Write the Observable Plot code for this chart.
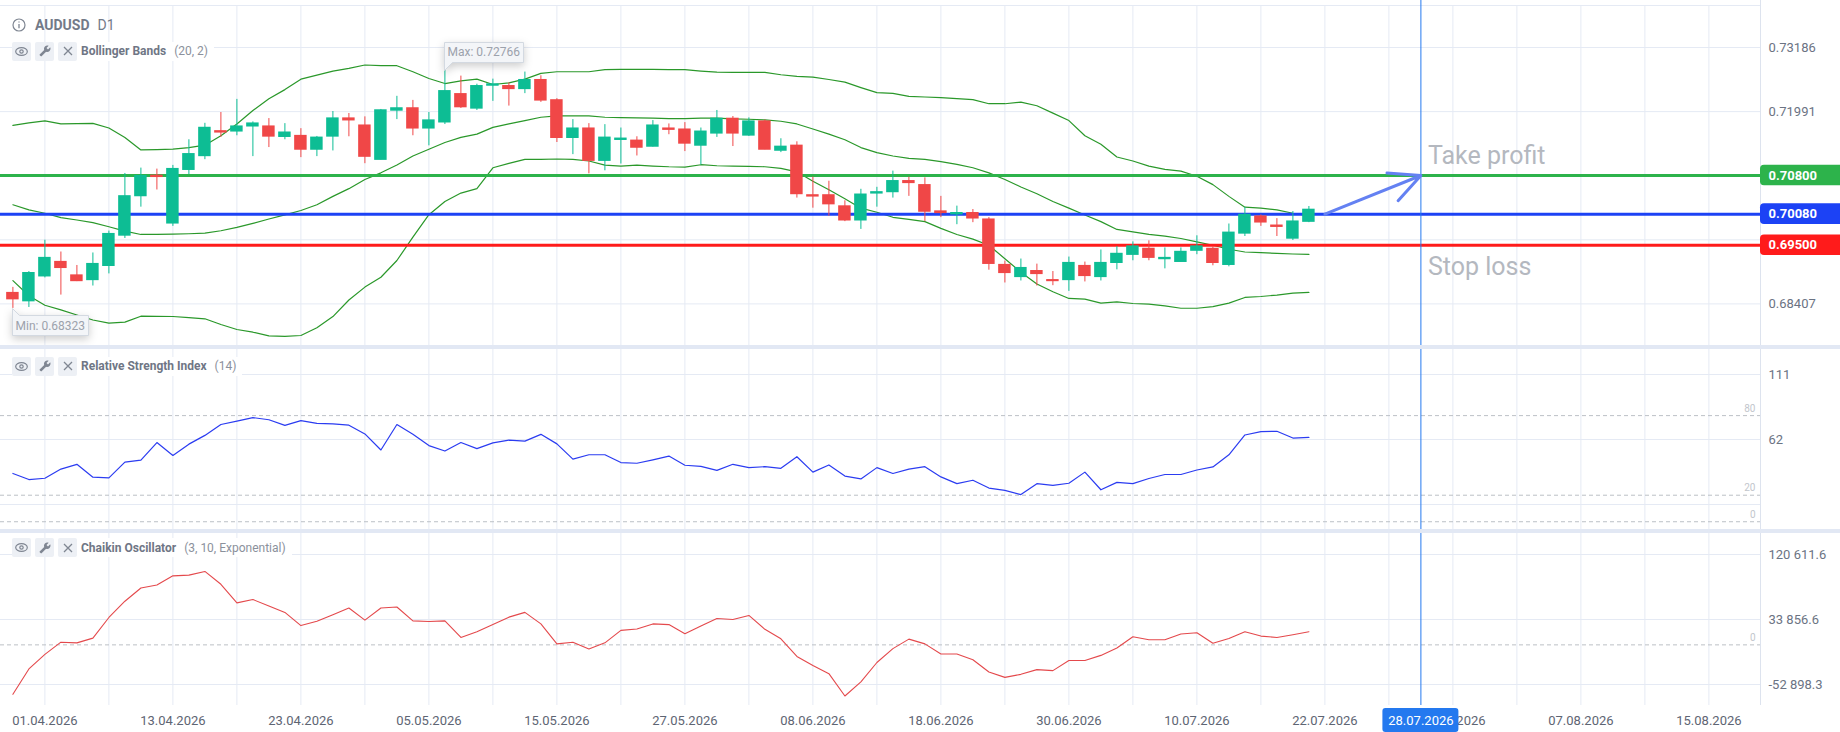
<!DOCTYPE html>
<html>
<head>
<meta charset="utf-8">
<script src="https://cdn.jsdelivr.net/npm/d3@7"></script>
<script src="https://cdn.jsdelivr.net/npm/@observablehq/plot@0.6"></script>
<style>
  body { margin: 0; background: #fff; font-family: Roboto, sans-serif; }
  #chart { position: relative; width: 1840px; height: 732px; overflow: hidden; }
  .panel { position: absolute; left: 0; }
  .panel svg { display: block; }
  .sep { position: absolute; left: 0; width: 1840px; height: 4px; background: #e2e8f4; }
  .legend { position: absolute; left: 12px; height: 19px; display: flex; align-items: center;
            background: #fff; padding-right: 6px; font-size: 12px; white-space: nowrap; }
  .ib { width: 19px; height: 19px; margin-right: 4px; background: #edf0f5; border-radius: 2px;
        display: flex; align-items: center; justify-content: center; }
  .legend b { color: #6f7685; font-weight: 700; }
  .legend .par { color: #8b919c; margin-left: 8px; }
  .title { position: absolute; left: 12px; top: 15px; height: 19px; display: flex; align-items: center;
           font-size: 14px; color: #737a88; }
  .title b { margin-left: 9px; font-weight: 700; }
  .title span { margin-left: 8px; }
</style>
</head>
<body>
<div id="chart">
  <div class="panel" id="price" style="top:0"></div>
  <div class="sep" style="top:345px"></div>
  <div class="panel" id="rsi" style="top:349px"></div>
  <div class="sep" style="top:529px"></div>
  <div class="panel" id="chaikin" style="top:533px"></div>
  <div class="panel" id="dates" style="top:705px"></div>
</div>
<script>
// candles, one per trading day from 30.03.2026 to 21.07.2026 (slot = index)
const open = [0.68608,0.68458,0.68922,0.69186,0.68935,0.68853,0.69117,0.69682,0.70417,0.70794,
  0.69908,0.70907,0.71164,0.71623,0.71623,0.71717,0.71711,0.71522,0.71535,0.71284,
  0.71528,0.71861,0.71729,0.71095,0.72012,0.72050,0.71679,0.71792,0.72314,0.72050,
  0.72477,0.72464,0.72414,0.72577,0.72200,0.71503,0.71673,0.71076,0.71466,0.71447,
  0.71340,0.71673,0.71654,0.71359,0.71585,0.71855,0.71547,0.71805,0.71265,0.71353,
  0.70429,0.70429,0.70222,0.69965,0.70467,0.70492,0.70693,0.70618,0.70128,0.70078,
  0.70097,0.69977,0.69130,0.68910,0.69016,0.68847,0.68853,0.69111,0.68910,0.69173,
  0.69324,0.69431,0.69243,0.69192,0.69400,0.69431,0.69136,0.69720,0.70034,0.69864,
  0.69626,0.69940];
const high = [0.68715,0.69010,0.69594,0.69374,0.69123,0.69356,0.69764,0.70838,0.70938,0.70919,
  0.70988,0.71466,0.71773,0.71974,0.72219,0.71799,0.71861,0.71767,0.71673,0.71528,
  0.71993,0.71956,0.71893,0.72031,0.72276,0.72200,0.71974,0.72766,0.72653,0.72502,
  0.72596,0.72527,0.72728,0.72659,0.72232,0.71842,0.71767,0.71748,0.71685,0.71522,
  0.71824,0.71761,0.71786,0.71685,0.72012,0.71899,0.71874,0.71836,0.71485,0.71428,
  0.70769,0.70693,0.70329,0.70543,0.70580,0.70882,0.70769,0.70756,0.70411,0.70229,
  0.70166,0.70015,0.69205,0.69243,0.69148,0.69010,0.69280,0.69186,0.69412,0.69475,
  0.69563,0.69582,0.69450,0.69450,0.69676,0.69475,0.69896,0.70203,0.70065,0.69996,
  0.70128,0.70222];
const low = [0.68323,0.68340,0.68891,0.68571,0.68822,0.68740,0.68966,0.69626,0.70210,0.70530,
  0.69852,0.70819,0.71095,0.71510,0.71541,0.71152,0.71321,0.71466,0.71133,0.71152,
  0.71258,0.71522,0.71020,0.71089,0.71842,0.71541,0.71353,0.71750,0.72050,0.72012,
  0.72182,0.72094,0.72326,0.72163,0.71415,0.71189,0.70831,0.70888,0.71014,0.71164,
  0.71330,0.71560,0.71246,0.70995,0.71510,0.71340,0.71528,0.71280,0.71227,0.70379,
  0.70191,0.70040,0.69940,0.69795,0.70210,0.70379,0.70411,0.69940,0.70015,0.69883,
  0.69921,0.69035,0.68797,0.68834,0.68740,0.68746,0.68640,0.68816,0.68834,0.69042,
  0.69211,0.69211,0.69060,0.69185,0.69324,0.69117,0.69098,0.69663,0.69852,0.69663,
  0.69588,0.69921];
const close = [0.68495,0.68979,0.69261,0.69079,0.68834,0.69148,0.69707,0.70411,0.70787,0.70775,
  0.70919,0.71196,0.71686,0.71604,0.71711,0.71767,0.71528,0.71598,0.71284,0.71503,
  0.71861,0.71830,0.71152,0.72012,0.72050,0.71679,0.71824,0.72370,0.72075,0.72464,
  0.72496,0.72414,0.72577,0.72200,0.71503,0.71673,0.71076,0.71503,0.71485,0.71321,
  0.71729,0.71654,0.71397,0.71616,0.71855,0.71585,0.71805,0.71284,0.71334,0.70455,
  0.70411,0.70266,0.69965,0.70442,0.70486,0.70693,0.70662,0.70128,0.70103,0.70097,
  0.70002,0.69155,0.68985,0.69073,0.68966,0.68834,0.69167,0.68929,0.69167,0.69337,
  0.69475,0.69268,0.69261,0.69374,0.69475,0.69173,0.69732,0.70065,0.69927,0.69845,
  0.69940,0.70159];

// Bollinger Bands (20, 2)
const bbUpper = [0.71736,0.71780,0.71817,0.71761,0.71767,0.71773,0.71686,0.71510,0.71277,0.71284,
  0.71290,0.71321,0.71365,0.71541,0.71761,0.72012,0.72232,0.72401,0.72596,0.72671,
  0.72747,0.72797,0.72860,0.72847,0.72847,0.72734,0.72609,0.72514,0.72565,0.72596,
  0.72496,0.72527,0.72596,0.72703,0.72734,0.72734,0.72734,0.72772,0.72778,0.72778,
  0.72778,0.72772,0.72772,0.72747,0.72728,0.72722,0.72722,0.72722,0.72678,0.72646,
  0.72634,0.72590,0.72540,0.72439,0.72345,0.72332,0.72276,0.72263,0.72251,0.72232,
  0.72213,0.72138,0.72138,0.72169,0.72100,0.71962,0.71824,0.71541,0.71384,0.71145,
  0.71070,0.70976,0.70913,0.70882,0.70787,0.70630,0.70411,0.70210,0.70191,0.70159,
  0.70097,0.70053];
const bbMiddle = [0.70254,0.70159,0.70097,0.70015,0.69971,0.69921,0.69845,0.69764,0.69701,0.69701,
  0.69707,0.69714,0.69726,0.69770,0.69833,0.69908,0.69990,0.70065,0.70147,0.70254,
  0.70411,0.70555,0.70725,0.70850,0.70995,0.71164,0.71290,0.71415,0.71510,0.71572,
  0.71698,0.71761,0.71824,0.71886,0.71912,0.71912,0.71912,0.71886,0.71880,0.71874,
  0.71868,0.71861,0.71861,0.71868,0.71868,0.71855,0.71849,0.71836,0.71811,0.71761,
  0.71667,0.71572,0.71466,0.71321,0.71227,0.71164,0.71120,0.71101,0.71057,0.71007,
  0.70944,0.70850,0.70725,0.70586,0.70461,0.70316,0.70191,0.70065,0.69940,0.69795,
  0.69751,0.69701,0.69670,0.69626,0.69563,0.69500,0.69425,0.69374,0.69362,0.69349,
  0.69337,0.69330];
const bbLower = [0.68841,0.68558,0.68382,0.68294,0.68200,0.68106,0.68047,0.68066,0.68177,0.68175,
  0.68172,0.68150,0.68129,0.68023,0.67930,0.67879,0.67810,0.67800,0.67818,0.67961,
  0.68170,0.68480,0.68720,0.68904,0.69216,0.69650,0.70070,0.70316,0.70473,0.70555,
  0.70944,0.71026,0.71101,0.71101,0.71108,0.71101,0.71070,0.70995,0.70976,0.70995,
  0.70976,0.70963,0.70957,0.71001,0.70982,0.70976,0.70970,0.70963,0.70932,0.70869,
  0.70693,0.70536,0.70367,0.70191,0.70115,0.70021,0.69984,0.69940,0.69814,0.69701,
  0.69613,0.69500,0.69249,0.68998,0.68778,0.68633,0.68508,0.68495,0.68420,0.68445,
  0.68414,0.68401,0.68370,0.68326,0.68326,0.68357,0.68420,0.68527,0.68545,0.68571,
  0.68608,0.68621];

// Relative Strength Index (14)
const rsi = [36.4,31.8,32.8,39.7,43.3,33.6,33.1,44.9,46.4,59.7,
  50.0,58.5,65.1,73.3,75.9,78.5,76.9,72.6,76.2,74.1,
  73.8,72.8,66.2,54.1,73.3,65.9,57.4,53.3,59.7,55.1,
  59.5,61.5,60.8,65.9,58.7,47.2,50.5,50.5,44.6,44.1,
  46.7,49.5,42.6,41.8,38.7,43.3,40.8,41.5,40.3,49.0,
  37.4,42.8,34.4,32.3,40.8,36.4,39.7,41.5,33.8,28.7,
  31.3,25.4,23.6,20.5,28.7,27.4,29.0,37.4,24.1,29.7,
  28.7,32.6,35.6,35.6,39.0,41.3,50.5,65.4,68.0,68.2,
  63.1,63.6];

// Chaikin Oscillator (3, 10, Exponential)
const chaikin = [-66002,-32114,-12684,3583,2679,9005,36568,58257,75879,79946,
  92146,93049,98020,80849,55998,60516,51931,43346,25723,31597,
  40183,49220,32953,49220,50575,32049,31145,32049,9908,17590,
  27079,37020,43346,27983,1323,3583,-5455,2679,19397,21205,
  27983,27079,14879,25271,35212,33857,39279,20753,8101,-15395,
  -27595,-38439,-68261,-49284,-23528,-5002,7650,1323,-12232,-12232,
  -19913,-36180,-43409,-39343,-33017,-34372,-20817,-20817,-14039,-4098,
  10813,6746,6746,14427,16235,2227,8553,17590,11716,9908,
  13524,17590];

// levels and axis ticks
const takeProfit = 0.708, entry = 0.7008, stopLoss = 0.695;
const priceTicks = [0.73186, 0.71991, 0.70796, 0.69601, 0.68407];
const priceLabels = [0.73186, 0.71991, 0.68407];
const rsiTicks = [111, 62, 13];
const rsiLevels = [80, 20, 0];
const chaikinTicks = [120611.6, 33856.6, -52898.3];
const dateSlots = [2, 10, 18, 26, 34, 42, 50, 58, 66, 74, 82, 90, 98, 106];
const dateLabels = ["01.04.2026", "13.04.2026", "23.04.2026", "05.05.2026", "15.05.2026",
  "27.05.2026", "08.06.2026", "18.06.2026", "30.06.2026", "10.07.2026", "22.07.2026",
  "30.07.2026", "07.08.2026", "15.08.2026"];
const cursorSlot = 88, cursorLabel = "28.07.2026";

// look
const GRID = "#e5eaf4", UP = "#0dbd94", DN = "#f04747", BB = "#2a982a";
const GREEN = "#2db34b", BLUE = "#1c42f5", RED = "#ff1b1b", CURSOR = "#2479ef";
const slot0 = -0.775, slotEnd = 109.225;
const gridSlots = d3.range(2, 107, 4);
const priceDomain = [0.676313, 0.740621];
const topEdge = 0.73969;

const base = {
  width: 1840, marginLeft: 0, marginRight: 80, marginTop: 0, marginBottom: 0,
  x: {domain: [slot0, slotEnd], axis: null},
  style: {fontFamily: "Roboto, sans-serif", fontSize: "13px", color: "#6b7383", background: "transparent"}
};

const candles = open.map((o, i) => ({i, o, h: high[i], l: low[i], c: close[i]}));
const ups = candles.filter(d => d.c >= d.o);
const downs = candles.filter(d => d.c < d.o);
const wick = (data, stroke) => Plot.ruleX(data, {x: "i", y1: "l", y2: "h", stroke});
const body = (data, fill) => Plot.rect(data, {
  x1: d => d.i - 0.39, x2: d => d.i + 0.39, y1: "o", y2: "c", fill, insetTop: -0.7, insetBottom: -0.7
});
const band = (values) => Plot.line(values, {x: (d, i) => i, y: d => d, stroke: BB, strokeWidth: 1.2});
const levelBox = (v, color) => [
  Plot.ruleY([v], {stroke: color, strokeWidth: 3}),
  Plot.rect([v], {x1: slotEnd, x2: slotEnd + 5.5, y1: d => d - 0.00193, y2: d => d + 0.00193, fill: color, rx: 4}),
  Plot.text([v], {x: slotEnd, y: d => d, dx: 8, text: d => d.toFixed(5), textAnchor: "start",
    fill: "white", fontWeight: 700, fontSize: 13})
];

const maxI = d3.maxIndex(high), minI = d3.minIndex(low);

const price = Plot.plot({
  ...base,
  height: 345,
  y: {domain: priceDomain, axis: null},
  marks: [
    Plot.ruleY(priceTicks, {stroke: GRID}),
    Plot.ruleY([topEdge], {stroke: GRID}),
    Plot.ruleX(gridSlots, {y1: priceDomain[0], y2: topEdge, stroke: GRID}),
    Plot.ruleX([slotEnd], {stroke: "#dde3ee"}),
    Plot.axisY(priceLabels, {anchor: "right", tickSize: 0, tickPadding: 8, tickFormat: d => d.toFixed(5), label: null}),
    band(bbUpper), band(bbMiddle), band(bbLower),
    ...levelBox(takeProfit, GREEN),
    ...levelBox(entry, BLUE),
    ...levelBox(stopLoss, RED),
    wick(ups, UP), wick(downs, DN),
    body(ups, UP), body(downs, DN),
    Plot.ruleX([cursorSlot], {stroke: CURSOR}),
    Plot.arrow([0], {x1: open.length, y1: entry, x2: cursorSlot, y2: takeProfit,
      stroke: "#6481f2", strokeWidth: 3, headAngle: 52, headLength: 17}),
    Plot.text(["Take profit"], {x: cursorSlot, y: takeProfit, dx: 7, dy: -20, textAnchor: "start",
      fontSize: 25, fill: "#b4b8bf"}),
    Plot.text(["Stop loss"], {x: cursorSlot, y: stopLoss, dx: 7, dy: 22, textAnchor: "start",
      fontSize: 25, fill: "#b4b8bf"}),
    Plot.tip([maxI], {x: d => d, y: d => high[d], title: d => "Max: " + high[d].toFixed(5),
      anchor: "bottom-left", pointerSize: 8, textPadding: 3, fontSize: 12, fill: "#f3f5f8", stroke: "#d3d9e1"}),
    Plot.tip([minI], {x: d => d, y: d => low[d], title: d => "Min: " + low[d].toFixed(5),
      anchor: "top-left", pointerSize: 7, textPadding: 3, fontSize: 12, fill: "#f3f5f8", stroke: "#d3d9e1"})
  ]
});
d3.select(price).selectAll('g[aria-label="tip"]').style("color", "#9ca2ac");
d3.select("#price").append(() => price);

const rsiPlot = Plot.plot({
  ...base,
  height: 180,
  y: {domain: [-5.85, 129.85], axis: null},
  marks: [
    Plot.ruleY(rsiTicks, {stroke: GRID}),
    Plot.ruleX(gridSlots, {stroke: GRID}),
    Plot.ruleX([slotEnd], {stroke: "#dde3ee"}),
    Plot.ruleY(rsiLevels, {stroke: "#bcc0c6", strokeDasharray: "4,3"}),
    Plot.text(rsiLevels, {x: slotEnd, y: d => d, text: d => String(d), dx: -5, dy: -7, textAnchor: "end",
      fontSize: 10, fill: "#c2c6cc"}),
    Plot.axisY([111, 62], {anchor: "right", tickSize: 0, tickPadding: 8, label: null}),
    Plot.line(rsi, {x: (d, i) => i, y: d => d, stroke: "#2b3cf1", strokeWidth: 1.2}),
    Plot.ruleX([cursorSlot], {stroke: CURSOR})
  ]
});
d3.select("#rsi").append(() => rsiPlot);

const fmt = d3.formatLocale({decimal: ".", thousands: " ", grouping: [3], currency: ["", ""], minus: "-"}).format(",.1f");
const chaikinPlot = Plot.plot({
  ...base,
  height: 172,
  y: {domain: [-80928, 148641], axis: null},
  marks: [
    Plot.ruleY(chaikinTicks, {stroke: GRID}),
    Plot.ruleX(gridSlots, {stroke: GRID}),
    Plot.ruleX([slotEnd], {stroke: "#dde3ee"}),
    Plot.ruleY([0], {stroke: "#bcc0c6", strokeDasharray: "4,3"}),
    Plot.text([0], {x: slotEnd, y: d => d, text: d => String(d), dx: -5, dy: -7, textAnchor: "end",
      fontSize: 10, fill: "#c2c6cc"}),
    Plot.axisY(chaikinTicks, {anchor: "right", tickSize: 0, tickPadding: 8, tickFormat: fmt, label: null}),
    Plot.line(chaikin, {x: (d, i) => i, y: d => d, stroke: "#e4494c", strokeWidth: 1.1}),
    Plot.ruleX([cursorSlot], {stroke: CURSOR})
  ]
});
d3.select("#chaikin").append(() => chaikinPlot);

const datePlot = Plot.plot({
  ...base,
  height: 27,
  marginTop: 4,
  marks: [
    Plot.text(dateSlots, {x: d => d, text: (d, i) => dateLabels[i], fill: "#5e6573", fontSize: 13}),
    Plot.ruleX([cursorSlot], {stroke: CURSOR, y1: null}),
    Plot.rect([cursorSlot], {x1: d => d - 2.375, x2: d => d + 2.375, fill: CURSOR, rx: 3, insetTop: -1}),
    Plot.text([cursorLabel], {x: cursorSlot, fill: "white", fontSize: 13})
  ]
});
d3.select("#dates").append(() => datePlot);

// title and indicator legends
const icons = {
  eye: '<svg width="13" height="9" viewBox="0 0 13 9"><ellipse cx="6.5" cy="4.5" rx="5.8" ry="3.8" fill="none" stroke="#7f8692" stroke-width="1.2"/><circle cx="6.5" cy="4.5" r="1.7" fill="none" stroke="#7f8692" stroke-width="1.2"/></svg>',
  wrench: '<svg width="12" height="12" viewBox="0 0 24 24"><path transform="translate(24,0) scale(-1,1)" d="M22.7 19l-9.1-9.1c.9-2.3.4-5-1.5-6.9-2-2-5-2.4-7.4-1.3L9 6 6 9 1.6 4.7C.4 7.1.9 10.1 2.9 12.1c1.9 1.9 4.6 2.4 6.9 1.5l9.1 9.1c.4.4 1 .4 1.4 0l2.3-2.3c.5-.4.5-1.1.1-1.4z" fill="#7f8692"/></svg>',
  x: '<svg width="10" height="10" viewBox="0 0 10 10"><path d="M1 1L9 9M9 1L1 9" stroke="#7f8692" stroke-width="1.3"/></svg>'
};
const chart = d3.select("#chart");
chart.append("div").attr("class", "title").html(
  '<svg width="14" height="14" viewBox="0 0 14 14"><circle cx="7" cy="7" r="6" fill="none" stroke="#7f8692" stroke-width="1.2"/><path d="M7 6v4.3M7 3.6v1" stroke="#7f8692" stroke-width="1.3"/></svg>' +
  '<b>AUDUSD</b><span>D1</span>');
const legends = [
  {top: 41.5, name: "Bollinger Bands", par: "(20, 2)"},
  {top: 356.5, name: "Relative Strength Index", par: "(14)"},
  {top: 538, name: "Chaikin Oscillator", par: "(3, 10, Exponential)"}
];
legends.forEach(l => {
  chart.append("div").attr("class", "legend").style("top", l.top + "px").html(
    `<span class="ib">${icons.eye}</span><span class="ib">${icons.wrench}</span><span class="ib">${icons.x}</span>` +
    `<b>${l.name}</b><span class="par">${l.par}</span>`);
});
</script>
</body>
</html>
